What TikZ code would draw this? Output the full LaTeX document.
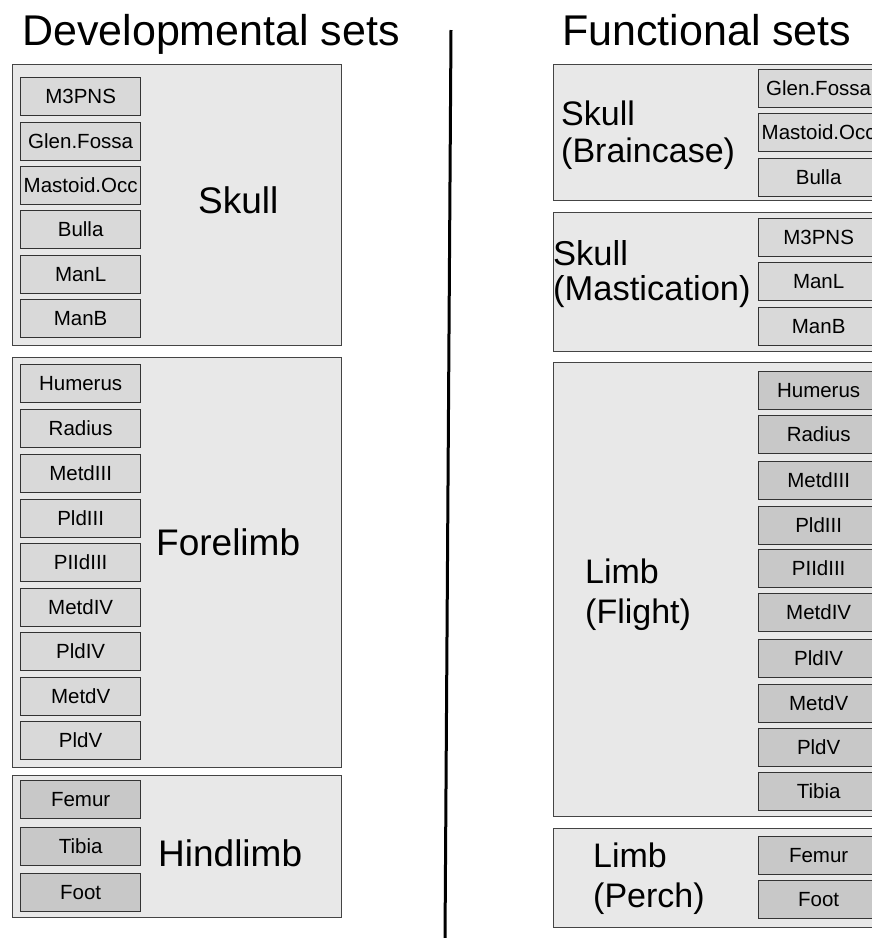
\documentclass[tikz,border=0pt]{standalone}
\usepackage{fontspec}
\setmainfont{Liberation Sans}
\definecolor{outerfill}{HTML}{E8E8E8}
\definecolor{lightin}{HTML}{D9D9D9}
\definecolor{darkin}{HTML}{C8C8C8}
\definecolor{edge}{HTML}{444444}
\tikzset{
  outerbox/.style={draw=edge, line width=1.4pt, fill=outerfill, anchor=north west, inner sep=0pt},
  innerbox/.style={draw=black!80, line width=1.3pt, anchor=north west, inner sep=0pt,
    minimum width=120pt, minimum height=38pt, font=\fontsize{20.5}{22}\selectfont},
  lightbox/.style={innerbox, fill=lightin},
  darkbox/.style={innerbox, fill=darkin},
  titletext/.style={anchor=base west, inner sep=0pt, font=\fontsize{43}{50}\selectfont},
  grouplabel/.style={anchor=base west, inner sep=0pt, font=\fontsize{37}{40}\selectfont},
  funclabel/.style={anchor=base west, inner sep=0pt, font=\fontsize{34}{37}\selectfont},
}
\begin{document}
\begin{tikzpicture}[x=1pt, y=-1pt]
\useasboundingbox (0,0) rectangle (872,938);
\clip (0,0) rectangle (872,938);
\fill[white] (0,0) rectangle (872,938);

% titles
\node[titletext] (tdev) at (22,45) {Developmental sets};
\node[titletext] (tfun) at (562,45) {Functional sets};

% divider
\coordinate (divtop) at (451,30);
\coordinate (divbot) at (445,940);
\draw[line width=3pt, black] (divtop) -- (divbot);

% ---------- Developmental sets ----------
\node[outerbox, minimum width=329pt, minimum height=281pt] (dskull) at (12,64) {};
\node[outerbox, minimum width=329pt, minimum height=410pt] (dfore) at (12,357) {};
\node[outerbox, minimum width=329pt, minimum height=142pt] (dhind) at (12,775) {};

\node[grouplabel] (lskull) at (198,213) {Skull};
\node[grouplabel] (lfore) at (156,555) {Forelimb};
\node[grouplabel] (lhind) at (158,866) {Hindlimb};

\node[lightbox] (d1) at (20,77) {M3PNS};
\node[lightbox] (d2) at (20,122) {Glen.Fossa};
\node[lightbox] (d3) at (20,166) {Mastoid.Occ};
\node[lightbox] (d4) at (20,210) {Bulla};
\node[lightbox] (d5) at (20,255) {ManL};
\node[lightbox] (d6) at (20,299) {ManB};

\node[lightbox] (f1) at (20,364) {Humerus};
\node[lightbox] (f2) at (20,409) {Radius};
\node[lightbox] (f3) at (20,454) {MetdIII};
\node[lightbox] (f4) at (20,499) {PldIII};
\node[lightbox] (f5) at (20,543) {PIIdIII};
\node[lightbox] (f6) at (20,588) {MetdIV};
\node[lightbox] (f7) at (20,632) {PldIV};
\node[lightbox] (f8) at (20,677) {MetdV};
\node[lightbox] (f9) at (20,721) {PldV};

\node[darkbox] (h1) at (20,780) {Femur};
\node[darkbox] (h2) at (20,827) {Tibia};
\node[darkbox] (h3) at (20,873) {Foot};

% ---------- Functional sets ----------
\node[outerbox, minimum width=360pt, minimum height=136pt] (fbrain) at (553,64) {};
\node[outerbox, minimum width=360pt, minimum height=139pt] (fmast) at (553,212) {};
\node[outerbox, minimum width=360pt, minimum height=454pt] (fflight) at (553,362) {};
\node[outerbox, minimum width=360pt, minimum height=99pt] (fperch) at (553,828) {};

\node[funclabel] (lbrain1) at (561,125) {Skull};
\node[funclabel] (lbrain2) at (561,162) {(Braincase)};
\node[funclabel, font=\fontsize{34.5}{37}\selectfont] (lmast1) at (553,265) {Skull};
\node[funclabel, font=\fontsize{34.5}{37}\selectfont] (lmast2) at (553,300) {(Mastication)};
\node[funclabel] (lflight1) at (585,583) {Limb};
\node[funclabel] (lflight2) at (585,623) {(Flight)};
\node[funclabel] (lperch1) at (593,867) {Limb};
\node[funclabel] (lperch2) at (593,907) {(Perch)};

\node[lightbox] (b1) at (758,69) {Glen.Fossa};
\node[lightbox] (b2) at (758,113) {Mastoid.Occ};
\node[lightbox] (b3) at (758,158) {Bulla};

\node[lightbox] (m1) at (758,218) {M3PNS};
\node[lightbox] (m2) at (758,262) {ManL};
\node[lightbox] (m3) at (758,307) {ManB};

\node[darkbox] (g1) at (758,371) {Humerus};
\node[darkbox] (g2) at (758,415) {Radius};
\node[darkbox] (g3) at (758,461) {MetdIII};
\node[darkbox] (g4) at (758,506) {PldIII};
\node[darkbox] (g5) at (758,549) {PIIdIII};
\node[darkbox] (g6) at (758,593) {MetdIV};
\node[darkbox] (g7) at (758,639) {PldIV};
\node[darkbox] (g8) at (758,684) {MetdV};
\node[darkbox] (g9) at (758,728) {PldV};
\node[darkbox] (g10) at (758,772) {Tibia};

\node[darkbox] (p1) at (758,836) {Femur};
\node[darkbox] (p2) at (758,880) {Foot};
\end{tikzpicture}
\end{document}
